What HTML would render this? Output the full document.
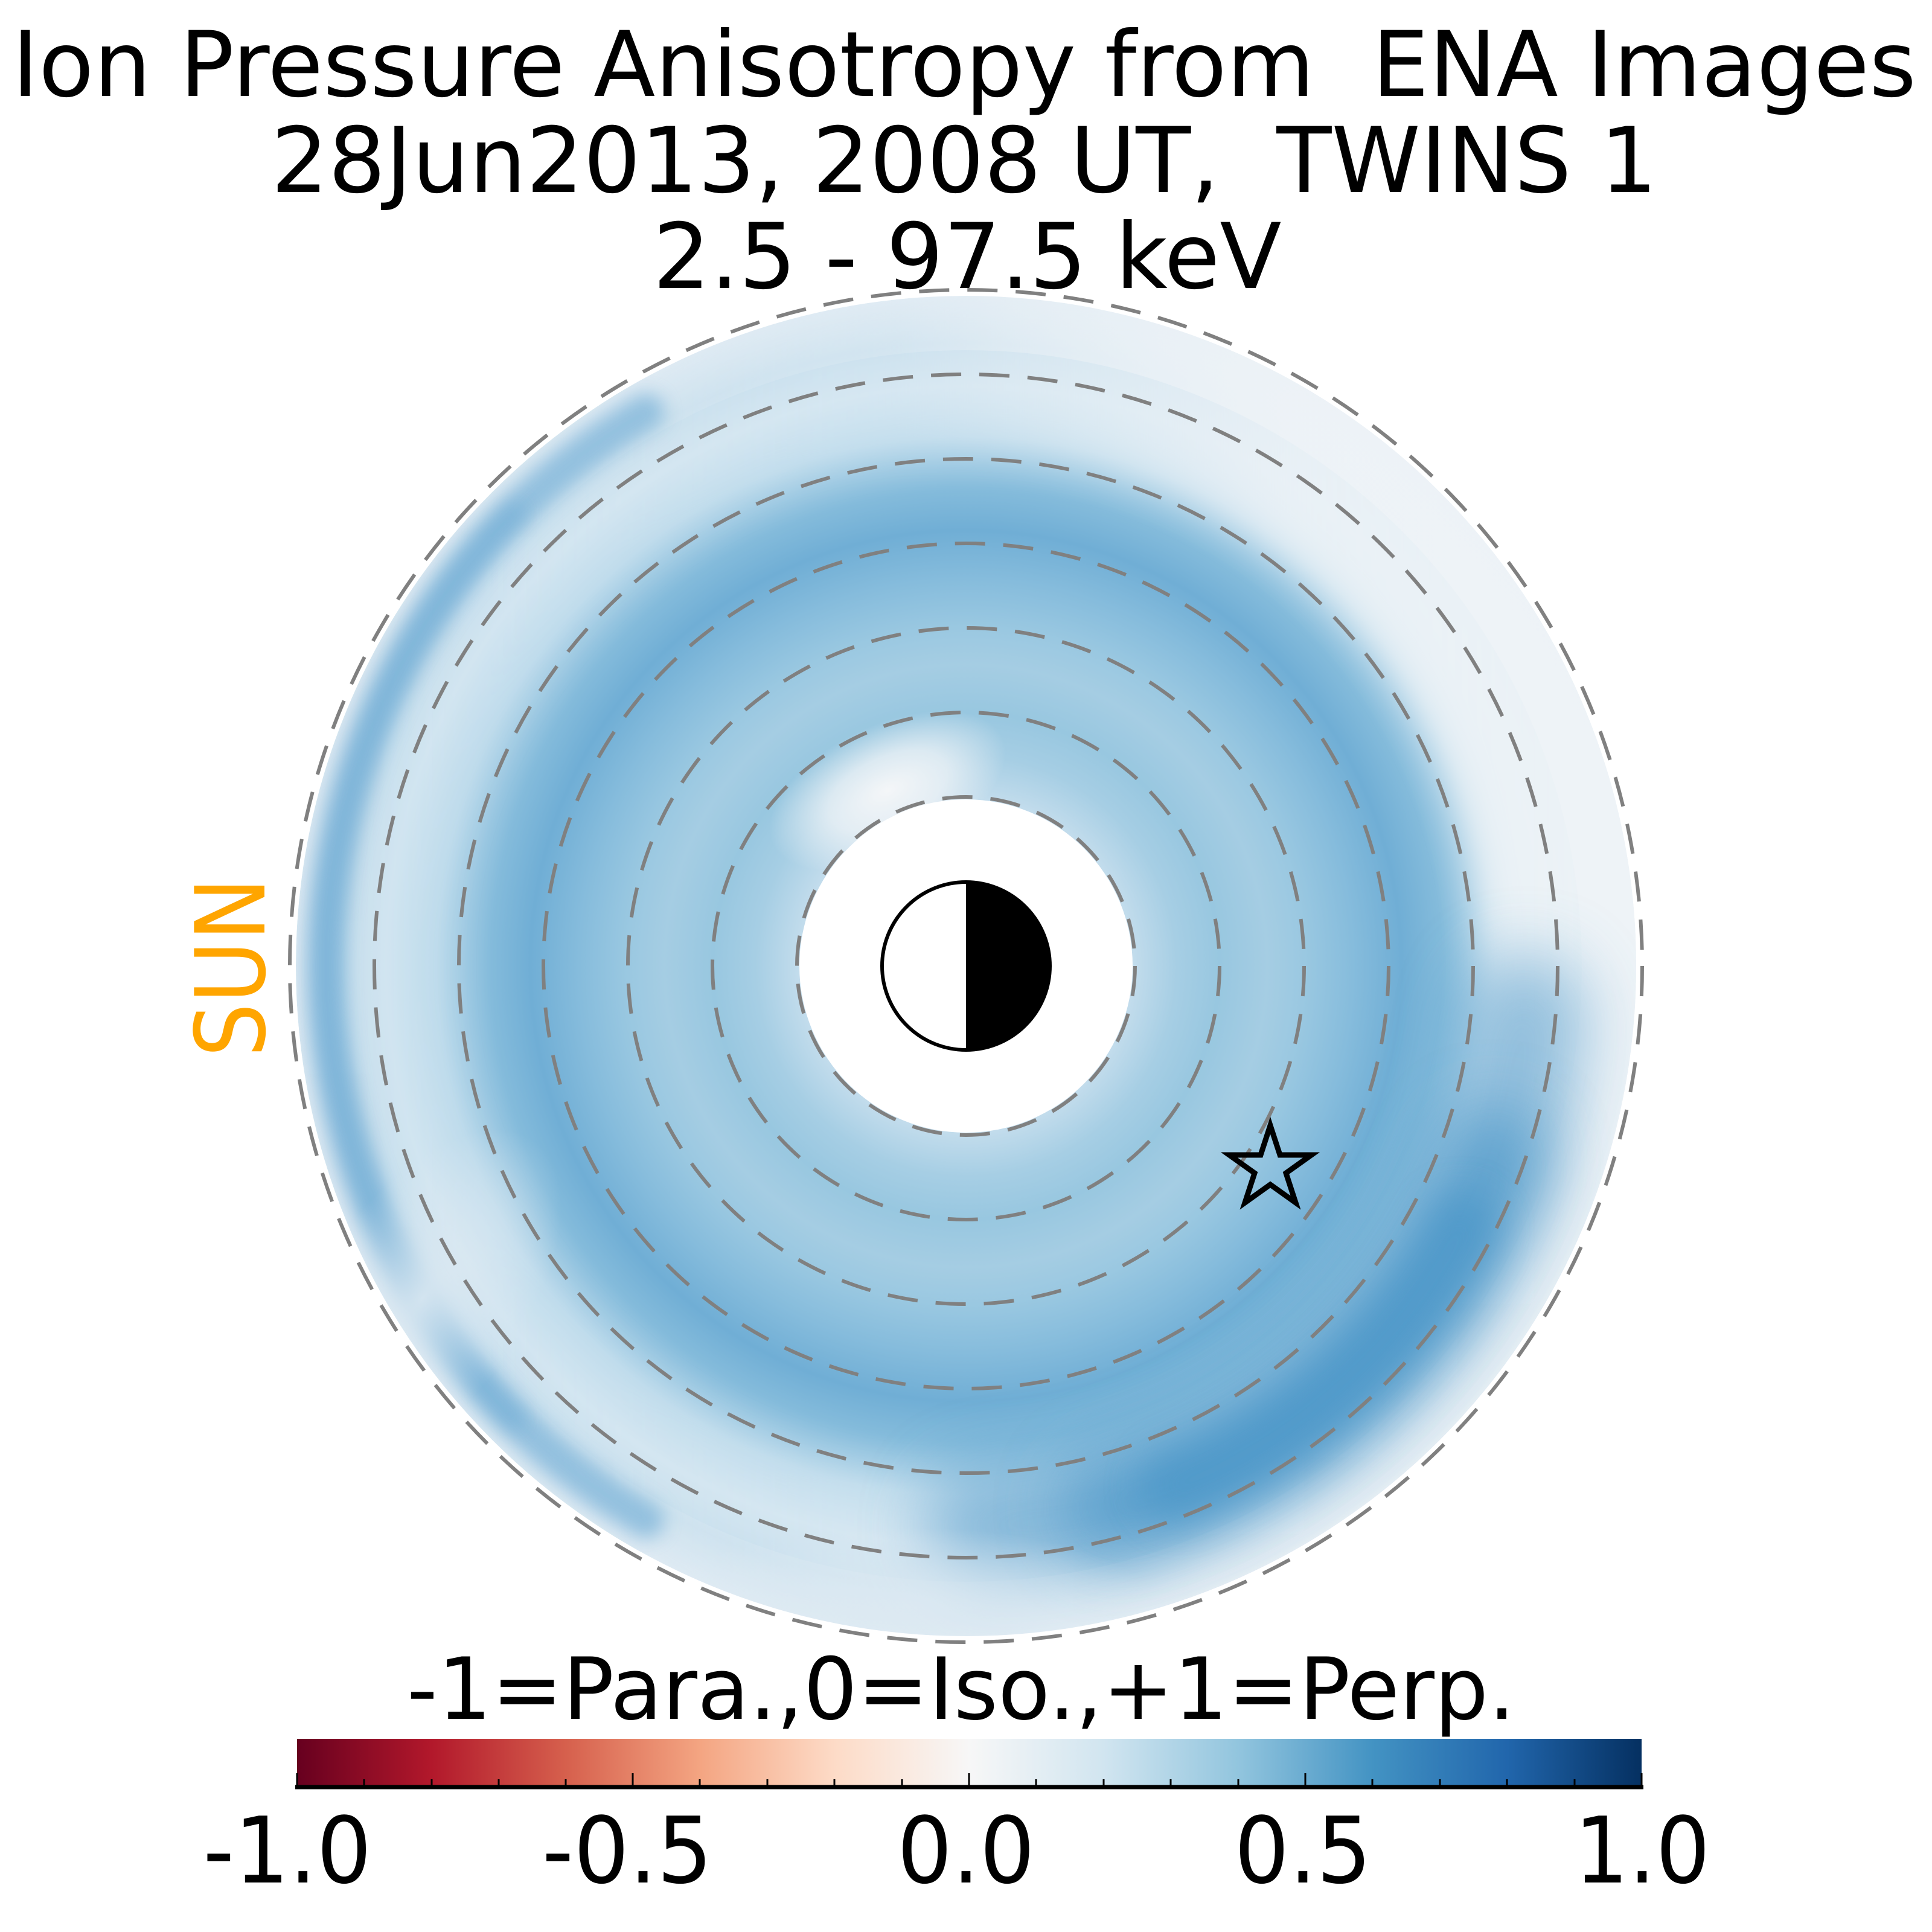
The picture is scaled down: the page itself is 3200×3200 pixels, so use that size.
<!DOCTYPE html>
<html><head><meta charset="utf-8"><style>html,body{margin:0;padding:0;background:#fff}svg{display:block}</style></head>
<body>
<svg xmlns="http://www.w3.org/2000/svg" width="3200" height="3200" viewBox="0 0 3200 3200">
<defs>
<radialGradient id="rg" cx="1600" cy="1600" r="1110" gradientUnits="userSpaceOnUse">
<stop offset="0.25" stop-color="#c2dcec"/>
<stop offset="0.315" stop-color="#a6cee4"/>
<stop offset="0.378" stop-color="#98c7e0"/>
<stop offset="0.45" stop-color="#a5cde3"/>
<stop offset="0.505" stop-color="#9ac8e1"/>
<stop offset="0.577" stop-color="#86bcdc"/>
<stop offset="0.65" stop-color="#70aed5"/>
<stop offset="0.71" stop-color="#84bbdb"/>
<stop offset="0.79" stop-color="#bcdaeb"/>
<stop offset="0.865" stop-color="#d0e4f0"/>
<stop offset="0.93" stop-color="#c4ddec"/>
<stop offset="1" stop-color="#dae8f2"/>
</radialGradient>
<linearGradient id="lg" x1="490" y1="0" x2="2710" y2="0" gradientUnits="userSpaceOnUse">
<stop offset="0" stop-color="#eef3f7" stop-opacity="0"/>
<stop offset="0.45" stop-color="#eef3f7" stop-opacity="0.2"/>
<stop offset="0.75" stop-color="#eef3f7" stop-opacity="0.85"/>
<stop offset="1" stop-color="#eef3f7" stop-opacity="0.95"/>
</linearGradient>
<radialGradient id="wp" cx="0.5" cy="0.5" r="0.5">
<stop offset="0" stop-color="#f4f6f8" stop-opacity="1"/>
<stop offset="0.5" stop-color="#f4f6f8" stop-opacity="0.7"/>
<stop offset="1" stop-color="#f4f6f8" stop-opacity="0"/>
</radialGradient>
<radialGradient id="lp" cx="0.5" cy="0.5" r="0.5">
<stop offset="0" stop-color="#dce9f2" stop-opacity="0.9"/>
<stop offset="1" stop-color="#dce9f2" stop-opacity="0"/>
</radialGradient>
<linearGradient id="cb" x1="0" y1="0" x2="1" y2="0">
<stop offset="0" stop-color="#67001f"/><stop offset="0.1" stop-color="#b2182b"/>
<stop offset="0.2" stop-color="#d6604d"/><stop offset="0.3" stop-color="#f4a582"/>
<stop offset="0.4" stop-color="#fddbc7"/><stop offset="0.5" stop-color="#f7f7f7"/>
<stop offset="0.6" stop-color="#d1e5f0"/><stop offset="0.7" stop-color="#92c5de"/>
<stop offset="0.8" stop-color="#4393c3"/><stop offset="0.9" stop-color="#2166ac"/>
<stop offset="1" stop-color="#053061"/>
</linearGradient>
<filter id="b1" filterUnits="userSpaceOnUse" x="0" y="0" width="3200" height="3200"><feGaussianBlur stdDeviation="55"/></filter>
<filter id="b2" filterUnits="userSpaceOnUse" x="0" y="0" width="3200" height="3200"><feGaussianBlur stdDeviation="30"/></filter>
<filter id="b3" filterUnits="userSpaceOnUse" x="0" y="0" width="3200" height="3200"><feGaussianBlur stdDeviation="15"/></filter>
<clipPath id="dc"><circle cx="1600" cy="1600" r="1110"/></clipPath>
</defs>

<g clip-path="url(#dc)">
<circle cx="1600" cy="1600" r="1110" fill="url(#rg)"/>
<circle cx="1600" cy="1600" r="990" fill="none" stroke="url(#lg)" stroke-width="260" filter="url(#b2)"/>
<circle cx="1600" cy="1600" r="1080" fill="none" stroke="url(#lg)" stroke-width="120"/>
<!-- left outer dark thin band -->
<path d="M1070,682 A1060,1060 0 0 0 1070,2518" fill="none" stroke="#5fa3d0" stroke-width="60" stroke-linecap="round" filter="url(#b3)" opacity="0.55"/>
<path d="M850,850 A1060,1060 0 0 0 850,2350" fill="none" stroke="#5fa3d0" stroke-width="40" stroke-linecap="round" filter="url(#b3)" opacity="0.35"/>
<!-- dark arc lower right -->
<g fill="none" stroke="#4694c7" stroke-linecap="round">
<path d="M2526,1681 A930,930 0 0 1 1633,2529" stroke-width="200" filter="url(#b1)" opacity="0.55"/>
<path d="M2474,1918 A930,930 0 0 1 1841,2498" stroke-width="170" filter="url(#b1)" opacity="0.7"/>
<path d="M2421,2036 A930,930 0 0 1 1949,2462" stroke-width="120" filter="url(#b2)" opacity="0.6"/>
</g>
<!-- whitish patch near hole top-left -->
<ellipse cx="1470" cy="1310" rx="210" ry="110" transform="rotate(-25 1470 1310)" fill="url(#wp)"/>
<!-- lighter lower-left outer -->
<ellipse cx="700" cy="2150" rx="170" ry="320" transform="rotate(35 700 2150)" fill="url(#lp)"/>
<ellipse cx="1500" cy="2660" rx="420" ry="130" fill="url(#lp)"/>
</g>
<circle cx="1600" cy="1600" r="276" fill="#fff"/>

<g fill="none" stroke="#808080" stroke-width="6" stroke-dasharray="50 30">
<circle cx="1600" cy="1600" r="280"/><circle cx="1600" cy="1600" r="420"/>
<circle cx="1600" cy="1600" r="560"/><circle cx="1600" cy="1600" r="700"/>
<circle cx="1600" cy="1600" r="840"/><circle cx="1600" cy="1600" r="980"/>
<circle cx="1600" cy="1600" r="1120"/>
</g>

<path d="M1600,1459 A141,141 0 0 1 1600,1741 Z" fill="#000"/>
<circle cx="1600" cy="1600" r="139" fill="none" stroke="#000" stroke-width="6"/>

<polygon points="2104,1864 2120,1913 2172,1913 2130,1943 2146,1992 2104,1962 2062,1992 2078,1943 2036,1913 2088,1913" fill="none" stroke="#000" stroke-width="9" stroke-linejoin="miter"/>

<g font-family="DejaVu Sans, Liberation Sans, sans-serif" fill="#000" text-anchor="middle" xml:space="preserve">
<text x="1597" y="159" font-size="150" textLength="3154" lengthAdjust="spacingAndGlyphs">Ion Pressure Anisotropy from&#160; ENA Images</text>
<text x="1597" y="318" font-size="150" textLength="2296" lengthAdjust="spacingAndGlyphs">28Jun2013, 2008 UT,&#160; TWINS 1</text>
<text x="1602" y="477" font-size="150" textLength="1041" lengthAdjust="spacingAndGlyphs">2.5 - 97.5 keV</text>
<text x="1592" y="2847" font-size="142" textLength="1836" lengthAdjust="spacingAndGlyphs">-1=Para.,0=Iso.,+1=Perp.</text>
<text x="476" y="3118" font-size="152" textLength="279" lengthAdjust="spacingAndGlyphs">-1.0</text>
<text x="1039" y="3118" font-size="152" textLength="282" lengthAdjust="spacingAndGlyphs">-0.5</text>
<text x="1600" y="3118" font-size="152" textLength="228" lengthAdjust="spacingAndGlyphs">0.0</text>
<text x="2158" y="3118" font-size="152" textLength="227" lengthAdjust="spacingAndGlyphs">0.5</text>
<text x="2720" y="3118" font-size="152" textLength="225" lengthAdjust="spacingAndGlyphs">1.0</text>
<text x="0" y="0" font-size="160" fill="#ffa500" textLength="298" lengthAdjust="spacingAndGlyphs" transform="translate(438,1602) rotate(-90)">SUN</text>
</g>

<rect x="492" y="2880" width="2227" height="77" fill="url(#cb)"/>
<line x1="489" y1="2960" x2="2722" y2="2960" stroke="#000" stroke-width="7"/>
<g stroke="#000" stroke-width="3">
<line x1="492" y1="2937" x2="492" y2="2960"/><line x1="1048" y1="2937" x2="1048" y2="2960"/>
<line x1="1605" y1="2937" x2="1605" y2="2960"/><line x1="2162" y1="2937" x2="2162" y2="2960"/>
<line x1="2719" y1="2937" x2="2719" y2="2960"/>
<line x1="603" y1="2947" x2="603" y2="2960"/><line x1="715" y1="2947" x2="715" y2="2960"/>
<line x1="826" y1="2947" x2="826" y2="2960"/><line x1="937" y1="2947" x2="937" y2="2960"/>
<line x1="1159" y1="2947" x2="1159" y2="2960"/><line x1="1271" y1="2947" x2="1271" y2="2960"/>
<line x1="1382" y1="2947" x2="1382" y2="2960"/><line x1="1494" y1="2947" x2="1494" y2="2960"/>
<line x1="1716" y1="2947" x2="1716" y2="2960"/><line x1="1828" y1="2947" x2="1828" y2="2960"/>
<line x1="1939" y1="2947" x2="1939" y2="2960"/><line x1="2051" y1="2947" x2="2051" y2="2960"/>
<line x1="2273" y1="2947" x2="2273" y2="2960"/><line x1="2385" y1="2947" x2="2385" y2="2960"/>
<line x1="2496" y1="2947" x2="2496" y2="2960"/><line x1="2608" y1="2947" x2="2608" y2="2960"/>
</g>
</svg>
</body></html>
